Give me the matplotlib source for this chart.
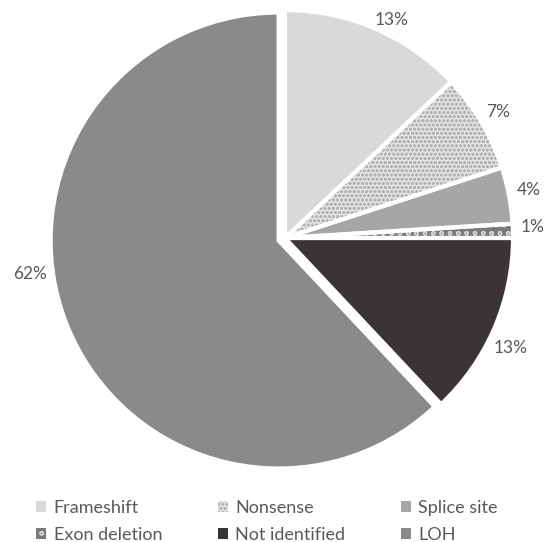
import matplotlib
matplotlib.use("Agg")
import numpy as np
import matplotlib.pyplot as plt

plt.rcParams['font.family'] = ['Lato', 'DejaVu Sans']
plt.rcParams['hatch.linewidth'] = 0.9

categories = ["Frameshift", "Nonsense", "Splice site", "Exon deletion", "Not identified", "LOH"]
shares = [13, 7, 4, 1, 13, 62]
pct_labels = ["13%", "7%", "4%", "1%", "13%", "62%"]

fills = ["#d9d9d9", "#e6e6e6", "#a6a6a6", "#7a7a7a", "#3a3435", "#8a8a8a"]
hatches = [None, "oooo", None, "oo", None, None]
hatch_colors = ["#d9d9d9", "#b4b4b4", "#a6a6a6", "#d6d6d6", "#3a3435", "#8a8a8a"]
explode = [0, 0, 0, 0, 0, 0.03]

# label placement: angular nudge (deg) and radial distance per slice
label_nudge = [-2.7, 0, 0.4, 0.7, -2.6, -13.6]
label_dist = [1.065, 1.085, 1.09, 1.085, 1.10, 1.13]

fig = plt.figure(figsize=(5.45, 5.42), dpi=100)
cx, cy, r = 285 / 545, 1 - 238 / 542, 228
ax = fig.add_axes([cx - r / 545, cy - r / 542, 2 * r / 545, 2 * r / 542])

wedges, _ = ax.pie(
    shares, colors=fills, startangle=90, counterclock=False,
    explode=explode, wedgeprops=dict(linewidth=0),
)
for w, h, hc in zip(wedges, hatches, hatch_colors):
    w.set_edgecolor(hc)
    if h:
        w.set_hatch(h)

for w, lab, nudge, dist in zip(wedges, pct_labels, label_nudge, label_dist):
    ang = np.deg2rad((w.theta1 + w.theta2) / 2 + nudge)
    ax.text(dist * np.cos(ang), dist * np.sin(ang), lab, ha="center", va="center",
            fontsize=12.5, color="#595959")

# white separators between slices
ax.pie(shares, startangle=90, counterclock=False, explode=explode,
       colors=["none"] * len(shares),
       wedgeprops=dict(edgecolor="white", linewidth=3, fill=False))
ax.set_xlim(-1, 1)
ax.set_ylim(-1, 1)
ax.set_aspect("equal")

order = [0, 3, 1, 4, 2, 5]
fig.legend([wedges[i] for i in order], [categories[i] for i in order],
           ncol=3, loc="center left", bbox_to_anchor=(0.037, 0.038),
           frameon=False, fontsize=13, labelcolor="#595959",
           handlelength=0.55, handleheight=0.55, handletextpad=0.4,
           columnspacing=3.1, labelspacing=0.62)

fig.savefig("out.png", dpi=100, facecolor="white")
